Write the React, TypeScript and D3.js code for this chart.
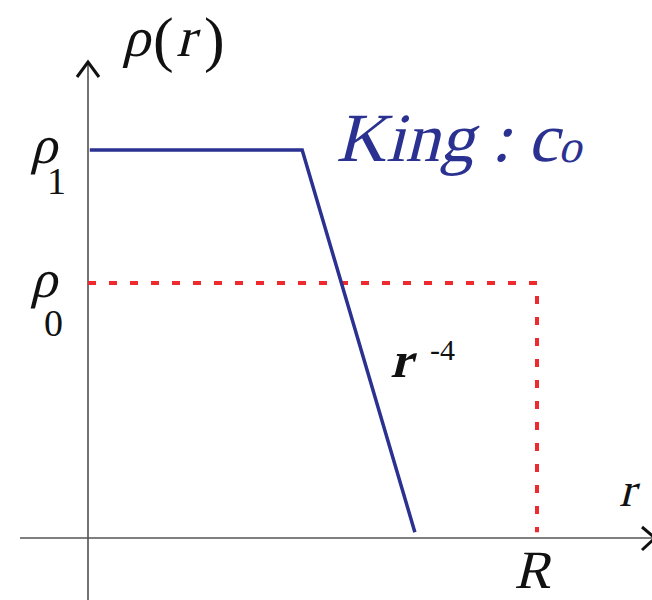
import React from "react";
import * as d3 from "d3";

// King profile (blue) and uniform sphere (red dashed), in units of R and rho1
const kingR = [0.004, 0.477, 0.728];
const kingRho = [1, 1, 0.015];
const uniR = [0, 1, 1];
const uniRho = [0.657, 0.657, 0.015];

const W = 652;
const H = 600;
const FONT = "Liberation Serif";

function It(props: { x: number; y: number; size: number; fill?: string; bold?: boolean; children: React.ReactNode }) {
  return (
    <text
      transform={`translate(${props.x},${props.y}) skewX(-14)`}
      fontFamily={FONT}
      fontSize={props.size}
      fontWeight={props.bold ? "bold" : "normal"}
      fill={props.fill ?? "#111"}
    >
      {props.children}
    </text>
  );
}

export default function App() {
  const x = d3.scaleLinear().domain([0, 1]).range([88, 537]);
  const y = d3.scaleLinear().domain([0, 1]).range([538, 150]);
  const line = d3.line<[number, number]>().x((d) => x(d[0])).y((d) => y(d[1]));
  const king = line(kingR.map((r, i) => [r, kingRho[i]] as [number, number]));
  const uni = line(uniR.map((r, i) => [r, uniRho[i]] as [number, number]));
  const x0 = x(0);
  const y0 = y(0);
  return (
    <svg width={W} height={H} style={{ position: "absolute", left: 0, top: 0 }}>
      <rect width={W} height={H} fill="#fff" />
      {/* axes */}
      <line x1={x0} y1={62} x2={x0} y2={600} stroke="#444" strokeWidth={1.5} />
      <line x1={20} y1={y0} x2={652} y2={y0} stroke="#555" strokeWidth={1.5} />
      <path d={`M${x0 - 11},${77} L${x0},${62} L${x0 + 11},${77}`} fill="none" stroke="#111" strokeWidth={3} />
      <path d={`M${642},${527} L${655},${y0} L${642},${550}`} fill="none" stroke="#111" strokeWidth={3} />
      {/* curves */}
      <path d={uni ?? ""} fill="none" stroke="#ee2a2f" strokeWidth={4} strokeDasharray="8 13" />
      <path d={king ?? ""} fill="none" stroke="#2b3190" strokeWidth={3.5} strokeLinejoin="miter" />
      {/* labels */}
      <It x={122} y={56} size={56}>ρ</It>
      <text x={153} y={60} fontFamily={FONT} fontSize={62} fill="#111">(</text>
      <It x={176} y={56} size={56}>r</It>
      <text x={204} y={60} fontFamily={FONT} fontSize={62} fill="#111">)</text>
      <It x={30} y={163} size={54}>ρ</It>
      <text x={47} y={194} fontFamily={FONT} fontSize={38} fill="#111">1</text>
      <It x={30} y={297} size={54}>ρ</It>
      <text x={44} y={336} fontFamily={FONT} fontSize={38} fill="#111">0</text>
      <It x={336} y={161} size={69} fill="#2b3190">
        King : c<tspan fontSize={46} dy={1}>o</tspan>
      </It>
      <It x={390} y={377} size={50} bold>r</It>
      <text x={430} y={360} fontFamily={FONT} fontSize={30} fill="#111">-4</text>
      <It x={514} y={588} size={54}>R</It>
      <It x={619} y={506} size={48}>r</It>
    </svg>
  );
}
